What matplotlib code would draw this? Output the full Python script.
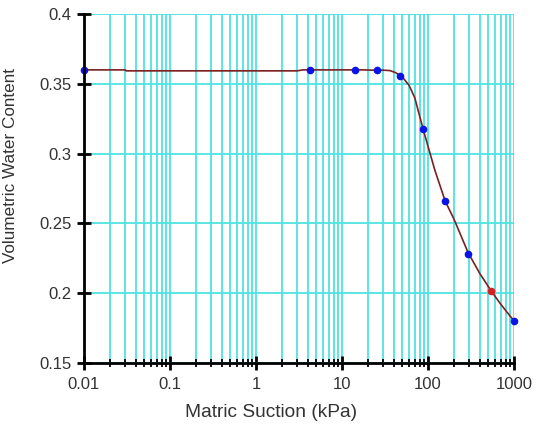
import matplotlib
matplotlib.use("Agg")
import matplotlib.pyplot as plt
from matplotlib.ticker import LogLocator, FixedLocator, NullFormatter

plt.rcParams['font.family'] = ['Liberation Sans', 'DejaVu Sans']

# measured points
suction = [0.01, 4.25, 14.2, 25.5, 47.2, 87.5, 158, 292, 1000]
water = [0.360, 0.360, 0.360, 0.360, 0.3556, 0.3176, 0.266, 0.228, 0.180]
# highlighted point
red_suction = [540]
red_water = [0.2017]

# fitted curve
fit_suction = [0.01, 0.03, 0.031, 3.0, 3.5, 18, 22, 30, 36, 42, 50, 60, 70, 87.5,
               100, 120, 158, 200, 292, 400, 540, 700, 1000]
fit_water = [0.360, 0.360, 0.3593, 0.3593, 0.360, 0.360, 0.3598, 0.3598, 0.3595,
             0.358, 0.355, 0.349, 0.340, 0.3176, 0.305, 0.288, 0.266, 0.253,
             0.229, 0.214, 0.2017, 0.192, 0.180]

y_ticks = [0.15, 0.2, 0.25, 0.3, 0.35, 0.4]
y_labels = ['0.15', '0.2', '0.25', '0.3', '0.35', '0.4']
x_ticks = [0.01, 0.1, 1, 10, 100, 1000]
x_labels = ['0.01', '0.1', '1', '10', '100', '1000']

grid_color = '#4fe3e3'

fig = plt.figure(figsize=(5.36, 4.26), dpi=100)
ax = fig.add_axes([0.1567, 0.148, 0.8025, 0.819])

ax.set_xscale('log')
ax.set_xlim(0.01, 1000)
ax.set_ylim(0.15, 0.4)

ax.xaxis.set_major_locator(FixedLocator(x_ticks))
ax.xaxis.set_minor_locator(LogLocator(base=10, subs=range(2, 10), numticks=20))
ax.xaxis.set_minor_formatter(NullFormatter())
ax.set_xticks(x_ticks)
ax.set_xticklabels(x_labels)
ax.set_yticks(y_ticks)
ax.set_yticklabels(y_labels)

ax.grid(True, which='both', axis='x', color=grid_color, lw=1.3)
ax.grid(True, which='major', axis='y', color=grid_color, lw=1.3)
ax.set_axisbelow(True)

for side in ('top', 'right'):
    ax.spines[side].set_visible(False)
for side in ('left', 'bottom'):
    ax.spines[side].set_linewidth(2)
    ax.spines[side].set_zorder(5)

ax.tick_params(which='major', direction='inout', length=10, width=2,
               labelsize=12, labelcolor='#333333')
ax.tick_params(axis='x', which='major', pad=5)
ax.tick_params(axis='y', which='major', pad=4)
ax.tick_params(which='minor', direction='inout', length=6, width=1.3)

ax.plot(fit_suction, fit_water, color='#7a2020', lw=1.2, zorder=3)
ax.plot(suction, water, 'o', color='#0a14e6', ms=4.5, zorder=4, clip_on=False)
ax.plot(red_suction, red_water, 'o', color='#d42020', ms=4.5, zorder=4)

ax.set_xlabel('Matric Suction (kPa)', fontsize=13.8, color='#333333')
ax.set_ylabel('Volumetric Water Content', fontsize=12.3, color='#333333')
ax.xaxis.set_label_coords(0.435, -0.118)
ax.yaxis.set_label_coords(-0.153, 0.565)

fig.savefig('out.png', dpi=100)
